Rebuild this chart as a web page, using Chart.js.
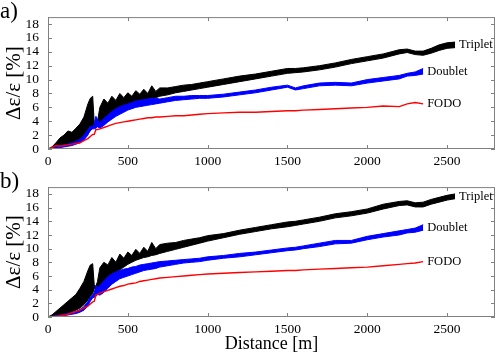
<!DOCTYPE html>
<html>
<head>
<meta charset="utf-8">
<script src="https://cdn.jsdelivr.net/npm/chart.js@4"></script>
<style>
body{margin:0;background:#fff;width:498px;height:353px;overflow:hidden;position:relative}
canvas{position:absolute;left:0}
#ca{top:0}
#cb{top:170px}
</style>
</head>
<body>
<canvas id="ca" width="498" height="170"></canvas>
<canvas id="cb" width="498" height="183"></canvas>
<script>
// distance along the line [m]
var dist=[0,25,50,75,100,125,150,175,200,225,250,265,280,290,300,310,325,350,375,400,425,450,475,500,525,550,575,600,625,650,675,700,750,800,850,900,950,1000,1100,1200,1300,1400,1500,1550,1600,1700,1800,1900,2000,2100,2200,2250,2300,2350,2400,2450,2500,2550];
var xTicks=[0,500,1000,1500,2000,2500];
var yTicks=[0,2,4,6,8,10,12,14,16,18];
var names=['Triplet','Doublet','FODO'];

// panel a) - noisy series given as lower / upper envelope
var triA_lo=[0,0,0.2,0.4,0.5,0.7,0.9,1.1,1.4,1.8,2.2,2.6,3.0,3.4,3.3,3.3,3.5,4.0,4.5,5.0,5.4,5.8,6.0,6.3,6.6,6.8,7.0,7.1,7.2,7.3,7.4,7.6,7.8,8.1,8.3,8.5,8.7,8.9,9.3,9.7,10.1,10.5,10.9,11.0,11.1,11.4,11.8,12.3,12.7,13.1,13.7,13.9,13.6,13.5,13.8,14.2,14.5,14.6];
var triA_hi=[0,0.3,0.9,1.6,2.0,2.6,2.4,3.0,3.6,4.6,6.5,7.3,7.6,3.6,3.5,4.0,6.0,7.2,6.6,7.6,7.0,8.0,7.4,8.1,7.6,8.4,7.9,8.6,8.0,9.1,8.3,8.8,8.8,9.0,9.2,9.3,9.5,9.7,10.1,10.5,10.8,11.2,11.6,11.6,11.7,12.0,12.4,12.9,13.3,13.7,14.3,14.4,14.1,14.1,14.5,15.0,15.3,15.4];
var dblA_lo=[0,0,0.1,0.2,0.3,0.4,0.5,0.7,0.9,1.3,2.0,2.8,2.9,2.9,3.0,3.2,3.0,3.4,3.9,4.3,4.7,5.0,5.3,5.6,5.8,6.0,6.1,6.2,6.3,6.4,6.5,6.6,6.8,7.0,7.1,7.2,7.3,7.3,7.5,7.8,8.1,8.5,8.9,8.5,8.7,9.1,9.2,9.1,9.5,9.8,10.1,10.5,10.6,10.8];
var dblA_hi=[0,0.1,0.3,0.5,0.6,0.7,0.9,1.1,1.4,2.0,2.8,3.3,3.2,3.6,4.7,4.2,3.8,4.4,4.9,5.4,5.8,6.1,6.3,6.5,6.7,6.9,7.0,7.1,7.2,7.3,7.3,7.2,7.4,7.6,7.6,7.7,7.7,7.7,7.9,8.2,8.5,8.9,9.2,8.8,9.1,9.5,9.6,9.5,10.0,10.3,10.6,10.9,11.1,11.6];
var fodoA=[0,0.2,0.5,0.4,0.5,0.6,0.7,0.8,0.9,1.2,1.5,1.8,2.1,2.1,2.8,2.8,2.9,3.1,3.3,3.5,3.7,3.8,3.9,4.0,4.1,4.2,4.3,4.4,4.5,4.5,4.6,4.6,4.7,4.8,4.8,4.9,5.0,5.1,5.2,5.3,5.3,5.4,5.5,5.5,5.6,5.7,5.8,5.9,6.0,6.2,6.1,6.5,6.7,6.5];

// panel b)
var triB_lo=[0,0,0.1,0.2,0.4,0.6,0.8,1.0,1.3,1.8,2.5,3.0,3.4,4.2,4.1,4.2,4.3,4.7,5.3,5.8,6.4,6.9,7.3,7.7,8.0,8.3,8.5,8.7,8.8,9.0,9.1,9.3,9.6,9.9,10.2,10.5,10.8,11.1,11.6,12.1,12.5,12.9,13.2,13.4,13.6,14.0,14.5,14.8,15.2,15.8,16.3,16.4,16.1,16.1,16.5,16.8,17.1,17.3];
var triB_hi=[0,0.3,0.8,1.3,1.8,2.3,2.8,3.3,4.2,5.2,6.8,7.6,7.8,4.6,4.5,5.2,7.2,8.0,7.6,8.7,8.0,9.2,8.6,9.5,9.0,9.9,9.3,10.2,9.6,10.9,10.0,10.6,10.8,10.9,11.2,11.4,11.6,11.9,12.2,12.7,13.1,13.5,13.9,14.0,14.2,14.6,15.1,15.4,15.8,16.5,16.9,17.0,16.7,16.8,17.2,17.5,17.8,18.0];
var dblB_lo=[0,0,0.05,0.1,0.2,0.3,0.4,0.5,0.7,1.0,1.6,2.3,2.8,2.9,3.0,3.3,3.2,3.6,4.2,4.8,5.2,5.6,5.8,6.0,6.2,6.4,6.6,6.8,6.9,7.0,7.1,7.3,7.5,7.7,7.9,8.0,8.1,8.3,8.6,8.8,9.1,9.4,9.7,9.8,10.0,10.3,10.7,10.8,11.3,11.7,12.0,12.3,12.4,12.7];
var dblB_hi=[0,0.1,0.2,0.3,0.4,0.5,0.7,0.8,1.1,1.5,2.3,2.9,3.2,3.6,4.6,4.3,4.6,5.3,5.9,6.3,6.6,6.8,7.0,7.1,7.3,7.4,7.6,7.7,7.8,7.9,8.0,8.1,8.2,8.3,8.4,8.5,8.6,8.8,9.0,9.3,9.5,9.8,10.1,10.2,10.4,10.8,11.2,11.2,11.8,12.2,12.6,12.8,13.0,13.5];
var fodoB=[0,0.05,0.1,0.2,0.3,0.4,0.6,0.8,1.0,1.3,1.6,1.9,2.2,2.3,3.2,3.3,3.5,3.7,3.9,4.1,4.3,4.5,4.6,4.8,4.9,5.0,5.2,5.3,5.4,5.5,5.6,5.7,5.8,5.9,6.0,6.1,6.2,6.3,6.4,6.5,6.6,6.7,6.8,6.8,6.9,7.0,7.1,7.2,7.3,7.5,7.7,7.8,7.9,8.1];

var serif='"Liberation Serif", "DejaVu Serif", serif';

function pts(vals){
  return vals.map(function(v,i){ return {x:dist[i], y:v}; });
}

// frame, inward ticks, end labels and panel letter
var framePlugin={
  id:'frame',
  afterDraw:function(chart){
    var ctx=chart.ctx, a=chart.chartArea, xs=chart.scales.x, ys=chart.scales.y;
    var o=chart.options.plugins.frame;
    ctx.save();
    ctx.strokeStyle='#808080';
    ctx.lineWidth=1;
    ctx.strokeRect(a.left+0.5,a.top+0.5,a.right-a.left-1,a.bottom-a.top-1);
    ctx.beginPath();
    xTicks.forEach(function(v){
      var p=Math.round(xs.getPixelForValue(v))+0.5;
      ctx.moveTo(p,a.bottom); ctx.lineTo(p,a.bottom-4);
      ctx.moveTo(p,a.top); ctx.lineTo(p,a.top+4);
    });
    yTicks.forEach(function(v){
      var p=Math.round(ys.getPixelForValue(v))+0.5;
      ctx.moveTo(a.left,p); ctx.lineTo(a.left+4,p);
      ctx.moveTo(a.right,p); ctx.lineTo(a.right-4,p);
    });
    ctx.stroke();

    ctx.fillStyle='#000';
    ctx.font='12.5px '+serif;
    ctx.textAlign='left';
    ctx.textBaseline='middle';
    o.ends.forEach(function(e,i){
      var n=e.lo.length-1;
      var px=xs.getPixelForValue(dist[n]);
      var py=ys.getPixelForValue((e.lo[n]+e.hi[n])/2);
      ctx.fillText(names[i],px+4,py);
    });

    ctx.font='23px '+serif;
    ctx.textBaseline='top';
    ctx.fillText(o.letter,0,0);
    ctx.restore();
  }
};

function makeChart(id,letter,tri_lo,tri_hi,dbl_lo,dbl_hi,fodo,bottomH,showTitle){
  var ctx=document.getElementById(id).getContext('2d');
  return new Chart(ctx,{
    type:'line',
    data:{
      datasets:[
        {label:'FODO',data:pts(fodo),borderColor:'#ff0000',borderWidth:1.4,fill:false},
        {label:'Doublet lo',data:pts(dbl_lo),borderColor:'#0000ff',borderWidth:1,fill:false},
        {label:'Doublet',data:pts(dbl_hi),borderColor:'#0000ff',borderWidth:1,backgroundColor:'#0000ff',fill:'-1'},
        {label:'Triplet lo',data:pts(tri_lo),borderColor:'#000000',borderWidth:1,fill:false},
        {label:'Triplet',data:pts(tri_hi),borderColor:'#000000',borderWidth:1,backgroundColor:'#000000',fill:'-1'}
      ]
    },
    options:{
      responsive:false,
      animation:false,
      devicePixelRatio:1,
      elements:{point:{radius:0},line:{tension:0}},
      layout:{padding:{top:3,right:3,left:0,bottom:0}},
      plugins:{
        legend:{display:false},
        tooltip:{enabled:false},
        frame:{letter:letter,ends:[{lo:tri_lo,hi:tri_hi},{lo:dbl_lo,hi:dbl_hi},{lo:fodo,hi:fodo}]}
      },
      scales:{
        x:{
          type:'linear',min:0,max:2800,
          afterBuildTicks:function(s){ s.ticks=xTicks.map(function(v){return {value:v};}); },
          afterFit:function(s){ s.height=bottomH; },
          grid:{display:false,drawTicks:false,tickLength:0},
          border:{display:false},
          ticks:{color:'#000',font:{family:serif,size:13.5},padding:4,maxRotation:0,autoSkip:false,
                 callback:function(v){ return String(v); }},
          title:{display:showTitle,text:'Distance [m]',color:'#000',font:{family:serif,size:18,lineHeight:1},padding:{top:0,bottom:0}}
        },
        y:{
          min:0,max:19,
          afterBuildTicks:function(s){ s.ticks=yTicks.map(function(v){return {value:v};}); },
          afterFit:function(s){ s.width=48; },
          grid:{display:false,drawTicks:false,tickLength:0},
          border:{display:false},
          ticks:{color:'#000',font:{family:serif,size:13.5},padding:9,autoSkip:false,
                 callback:function(v){ return String(v); }},
          title:{display:true,text:'\u0394\u03b5/\u03b5 [%]',color:'#000',font:{family:serif,size:21},padding:{top:2,bottom:0}}
        }
      }
    },
    plugins:[framePlugin]
  });
}

makeChart('ca','a)',triA_lo,triA_hi,dblA_lo,dblA_hi,fodoA,21,false);
makeChart('cb','b)',triB_lo,triB_hi,dblB_lo,dblB_hi,fodoB,36,true);
</script>
</body>
</html>
